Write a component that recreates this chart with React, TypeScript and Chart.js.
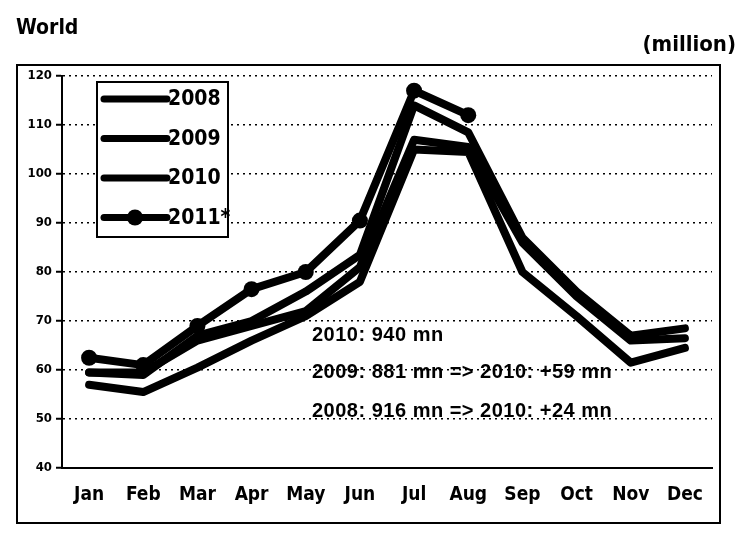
import { useEffect, useRef } from "react";
import { Chart, registerables } from "chart.js";

Chart.register(...registerables);

const months = ["Jan", "Feb", "Mar", "Apr", "May", "Jun", "Jul", "Aug", "Sep", "Oct", "Nov", "Dec"];
const seriesLabels = ["2008", "2009", "2010", "2011*"];
const values2008 = [59.5, 59.5, 66, 69, 72, 81, 107, 105.5, 86, 75, 66, 66.5];
const values2009 = [57, 55.5, 60.5, 66, 71, 78, 105, 104.5, 80, 71, 61.5, 64.5];
const values2010 = [59.5, 59, 67, 70, 76, 83.5, 114, 108.5, 87, 76, 67, 68.5];
const values2011 = [62.5, 61, 69, 76.5, 80, 90.5, 117, 112, null, null, null, null];
const yTickValues = [40, 50, 60, 70, 80, 90, 100, 110, 120];
const noteTexts = ["2010: 940 mn", "2009: 881 mn => 2010: +59 mn", "2008: 916 mn => 2010: +24 mn"];
const noteLevels = [67, 59.4, 51.6];

const NARROW = '"Liberation Sans Narrow", "Arial Narrow", "DejaVu Sans Condensed", sans-serif';
const NOTE_FONT = '"Liberation Sans", Arial, sans-serif';

const boxLegend = {
  id: "boxLegend",
  afterDatasetsDraw(chart: any) {
    const ctx = chart.ctx as CanvasRenderingContext2D;
    const x0 = 97, y0 = 82, w = 131, h = 155;
    ctx.save();
    ctx.fillStyle = "#fff";
    ctx.fillRect(x0, y0, w, h);
    ctx.strokeStyle = "#000";
    ctx.lineWidth = 2;
    ctx.strokeRect(x0, y0, w, h);
    chart.data.datasets.forEach((ds: any, i: number) => {
      const y = y0 + 17 + i * 39.5;
      ctx.beginPath();
      ctx.moveTo(x0 + 7, y);
      ctx.lineTo(x0 + 70, y);
      ctx.lineWidth = 7;
      ctx.lineCap = "round";
      ctx.strokeStyle = "#000";
      ctx.stroke();
      if (ds.pointRadius > 0) {
        ctx.beginPath();
        ctx.arc(x0 + 38, y, 8, 0, Math.PI * 2);
        ctx.fillStyle = "#000";
        ctx.fill();
      }
      ctx.fillStyle = "#000";
      ctx.font = `bold 21px ${NARROW}`;
      ctx.textBaseline = "middle";
      ctx.textAlign = "left";
      ctx.fillText(ds.label, x0 + 71, y + 1);
    });
    ctx.restore();
  },
};

const notesPlugin = {
  id: "notes",
  afterDatasetsDraw(chart: any) {
    const ctx = chart.ctx as any;
    const ys = chart.scales.y;
    const left = chart.chartArea.left + 250;
    ctx.save();
    ctx.fillStyle = "#000";
    ctx.font = `bold 20px ${NOTE_FONT}`;
    ctx.letterSpacing = "0.5px";
    ctx.textBaseline = "middle";
    ctx.textAlign = "left";
    noteTexts.forEach((t, i) => {
      ctx.fillText(t, left, ys.getPixelForValue(noteLevels[i]));
    });
    ctx.restore();
  },
};

export default function App() {
  const ref = useRef<HTMLCanvasElement | null>(null);

  useEffect(() => {
    if (!ref.current) return;
    const lineBase = {
      borderColor: "#000",
      backgroundColor: "#000",
      borderWidth: 8,
      pointRadius: 0,
      pointHoverRadius: 0,
      tension: 0,
      fill: false,
      borderJoinStyle: "round" as const,
      borderCapStyle: "round" as const,
      spanGaps: false,
    };
    const chart = new Chart(ref.current, {
      type: "line",
      data: {
        labels: months,
        datasets: [
          { ...lineBase, label: seriesLabels[0], data: values2008, order: 2 },
          { ...lineBase, label: seriesLabels[1], data: values2009, order: 3 },
          { ...lineBase, label: seriesLabels[2], data: values2010, order: 1 },
          { ...lineBase, label: seriesLabels[3], data: values2011, order: 0, pointRadius: 8, pointBackgroundColor: "#000", pointBorderColor: "#000", pointBorderWidth: 0 },
        ],
      },
      options: {
        responsive: false,
        animation: false,
        devicePixelRatio: 1,
        layout: { padding: { left: 12, top: 76, right: 24, bottom: 30 } },
        plugins: { legend: { display: false }, tooltip: { enabled: false }, title: { display: false } },
        scales: {
          x: {
            type: "category",
            offset: true,
            afterFit: (s: any) => { s.height = 40; },
            grid: { display: false, drawTicks: false },
            border: { display: true, color: "#000", width: 2 },
            ticks: { color: "#000", padding: 16, font: { family: NARROW, size: 19, weight: "bold" }, maxRotation: 0, autoSkip: false },
          },
          y: {
            min: 40,
            max: 120,
            afterFit: (s: any) => { s.width = 50; },
            afterBuildTicks: (s: any) => { s.ticks = yTickValues.map((v) => ({ value: v })); },
            grid: { color: "#000", lineWidth: 1.5, drawTicks: true, tickLength: 6, tickColor: "#000", tickWidth: 2, tickBorderDash: [] },
            border: { display: true, color: "#000", width: 2, dash: [2, 4] },
            ticks: { color: "#000", padding: 4, font: { family: NARROW, size: 13, weight: "bold" } },
          },
        },
      },
      plugins: [notesPlugin, boxLegend],
    });
    return () => chart.destroy();
  }, []);

  return (
    <div style={{ position: "fixed", left: 0, top: 0, width: 736, height: 538, background: "#fff", overflow: "hidden" }}>
      <div style={{ position: "absolute", left: 16, top: 64, width: 705, height: 460, border: "2px solid #000", boxSizing: "border-box" }} />
      <canvas ref={ref} width={736} height={538} style={{ position: "absolute", left: 0, top: 0, display: "block" }} />
      <div style={{ position: "absolute", left: 16, top: 15, font: `bold 21px ${NARROW}`, color: "#000" }}>World</div>
      <div style={{ position: "absolute", right: 0, top: 31, font: `bold 22px ${NARROW}`, color: "#000" }}>(million)</div>
    </div>
  );
}
